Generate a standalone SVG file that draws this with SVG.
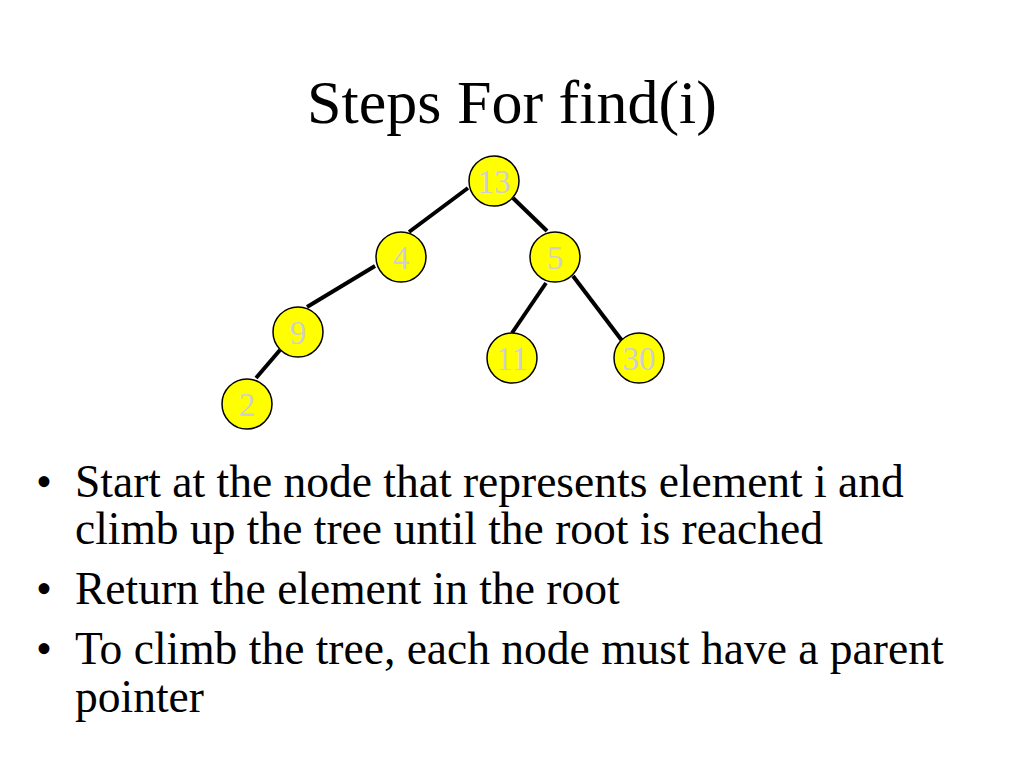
<svg xmlns="http://www.w3.org/2000/svg" width="1024" height="768" viewBox="0 0 1024 768">
<style>
.node circle{fill:#ffff00;stroke:#000;stroke-width:1.5}
.node text{font-family:"Liberation Serif","Times New Roman",serif;font-size:33px;fill:#cfcfcf;text-anchor:middle}
.edge{stroke:#000;stroke-width:4;fill:none}
.title{font-family:"Liberation Serif","Times New Roman",serif;font-size:62px;fill:#000;text-anchor:middle}
.body{font-family:"Liberation Serif","Times New Roman",serif;font-size:45.5px;fill:#000}
</style>
<rect width="1024" height="768" fill="#fff"/>
<text class="title" x="512" y="123">Steps For find(i)</text>
<g id="connectors">
<line class="edge" x1="468" y1="188" x2="409" y2="232"/>
<line class="edge" x1="513" y1="198" x2="547" y2="231"/>
<line class="edge" x1="375" y1="266" x2="307" y2="307"/>
<line class="edge" x1="546" y1="283" x2="512" y2="333"/>
<line class="edge" x1="573" y1="276" x2="623" y2="342"/>
<line class="edge" x1="280" y1="350" x2="256" y2="378"/>
</g>
<g id="node-13" class="node"><circle cx="494" cy="181" r="25"/><text x="494" y="193">13</text></g>
<g id="node-4" class="node"><circle cx="401" cy="257" r="25"/><text x="401" y="269">4</text></g>
<g id="node-5" class="node"><circle cx="555" cy="257" r="25"/><text x="555" y="269">5</text></g>
<g id="node-9" class="node"><circle cx="298" cy="332" r="25"/><text x="298" y="344">9</text></g>
<g id="node-11" class="node"><circle cx="512" cy="358" r="25"/><text x="512" y="370">11</text></g>
<g id="node-30" class="node"><circle cx="639" cy="358" r="25"/><text x="639" y="370">30</text></g>
<g id="node-2" class="node"><circle cx="247" cy="404" r="25"/><text x="247" y="416">2</text></g>
<g id="bullets">
<text class="body" x="36" y="497">•</text>
<text class="body" x="75" y="497">Start at the node that represents element i and</text>
<text class="body" x="75" y="544">climb up the tree until the root is reached</text>
<text class="body" x="36" y="604">•</text>
<text class="body" x="75" y="604">Return the element in the root</text>
<text class="body" x="36" y="664">•</text>
<text class="body" x="75" y="664">To climb the tree, each node must have a parent</text>
<text class="body" x="75" y="712">pointer</text>
</g>
</svg>
